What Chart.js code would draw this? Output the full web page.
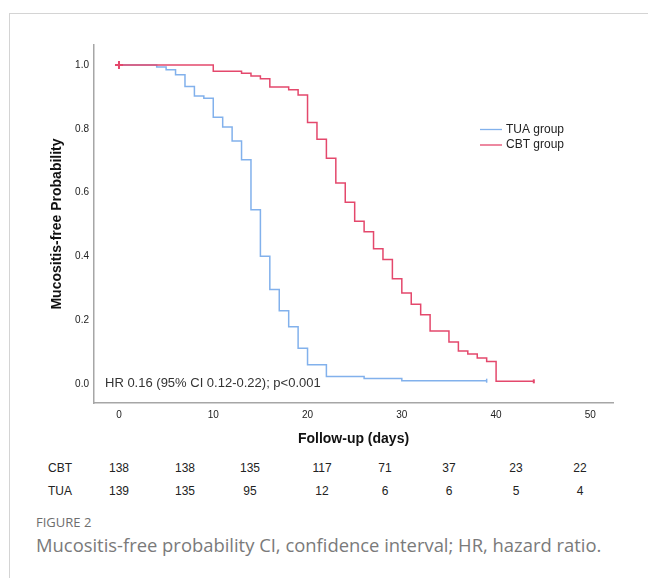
<!DOCTYPE html>
<html>
<head>
<meta charset="utf-8">
<script src="https://cdn.jsdelivr.net/npm/chart.js@4.4.1/dist/chart.umd.min.js"></script>
<style>
  body { margin: 0; background: #fff; font-family: "Liberation Sans", Arial, sans-serif; }
  #wrap { position: relative; width: 648px; height: 578px; overflow: hidden; }
  #frame { position: absolute; left: 9px; top: 13px; width: 700px; height: 700px;
    border-top: 1px solid #d4d4d4; border-left: 1px solid #d4d4d4; }
  #km { position: absolute; left: 0; top: 0; }
  .cell { position: absolute; font-size: 12px; color: #222; transform: translateX(-50%); line-height: 14px; }
  .fig { position: absolute; left: 36px; font-family: "Open Sans", sans-serif; color: #6e6e6e; white-space: nowrap; }
</style>
</head>
<body>
<div id="wrap">
  <div id="frame"></div>
  <canvas id="km" width="648" height="460"></canvas>
  <div id="risk"></div>
  <div class="fig" style="top:514px;font-size:13px;line-height:16px;">FIGURE 2</div>
  <div class="fig" style="top:534px;font-size:18.4px;line-height:22px;color:#7a7a7a;">Mucositis-free probability CI, confidence interval; HR, hazard ratio.</div>
</div>
<script>
// step times (days) and survival after each drop
const timesTUA = [0, 4, 5, 6, 7, 8, 9, 10, 11, 12, 13, 14, 15, 16, 17, 18, 19, 20, 22, 26, 30, 39];
const survTUA = [1.0, 0.994, 0.985, 0.97, 0.933, 0.903, 0.896, 0.836, 0.806, 0.762, 0.703, 0.546, 0.40, 0.296, 0.229, 0.179, 0.112, 0.06, 0.023, 0.017, 0.01, 0.01];

const timesCBT = [0, 10, 13, 14, 15, 16, 18, 19, 20, 21, 22, 23, 24, 25, 26, 27, 28, 29, 30, 31, 32, 33, 35, 36, 37, 38, 39, 40, 44];
const survCBT = [1.0, 0.981, 0.974, 0.966, 0.957, 0.931, 0.923, 0.906, 0.82, 0.767, 0.708, 0.63, 0.57, 0.51, 0.477, 0.424, 0.39, 0.33, 0.285, 0.25, 0.217, 0.166, 0.131, 0.103, 0.094, 0.081, 0.07, 0.008, 0.008];

const xTicks = [0, 10, 20, 30, 40, 50];
const yTicks = [0, 0.2, 0.4, 0.6, 0.8, 1.0];

// numbers at risk
const riskLabels = ["CBT", "TUA"];
const riskCBT = [138, 138, 135, 117, 71, 37, 23, 22];
const riskTUA = [139, 135, 95, 12, 6, 6, 5, 4];

const blue = "#82b1ec";
const red = "#e4486c";

const toPoints = (ts, ss) => ts.map((t, i) => ({ x: t, y: ss[i] }));

// risk table as html text
const riskX = [119, 185, 250, 322, 385, 449, 516, 580];
const riskBox = document.getElementById("risk");
[riskCBT, riskTUA].forEach((row, r) => {
  const top = 461 + r * 23;
  riskBox.insertAdjacentHTML("beforeend",
    `<span class="cell" style="left:60px;top:${top}px">${riskLabels[r]}</span>`);
  row.forEach((v, i) => {
    riskBox.insertAdjacentHTML("beforeend",
      `<span class="cell" style="left:${riskX[i]}px;top:${top}px">${v}</span>`);
  });
});

const extras = {
  id: "extras",
  afterDraw(chart) {
    const { ctx, scales } = chart;
    ctx.save();
    ctx.textBaseline = "middle";
    // HR annotation
    ctx.font = "13px 'Liberation Sans', Arial";
    ctx.fillStyle = "#333";
    ctx.fillText("HR 0.16 (95% CI 0.12-0.22); p<0.001", chart.chartArea.left + 11, scales.y.getPixelForValue(0));
    // legend
    ctx.font = "12px 'Liberation Sans', Arial";
    const items = [["TUA group", blue], ["CBT group", red]];
    items.forEach(([label, color], i) => {
      const y = 129.5 + i * 15.5;
      ctx.strokeStyle = color;
      ctx.lineWidth = 1.3;
      ctx.beginPath();
      ctx.moveTo(480, y);
      ctx.lineTo(502, y);
      ctx.stroke();
      ctx.fillStyle = "#222";
      ctx.fillText(label, 506, y);
    });
    ctx.restore();
  },
};

new Chart(document.getElementById("km"), {
  type: "line",
  data: {
    datasets: [
      {
        label: "CBT group",
        data: toPoints(timesCBT, survCBT),
        borderColor: red,
        backgroundColor: red,
        borderWidth: 1.5,
        stepped: true,
        pointStyle: (c) => (c.dataIndex === 0 ? "cross" : "line"),
        pointRotation: (c) => (c.dataIndex === 0 ? 0 : 90),
        pointRadius: (c) => (c.dataIndex === 0 ? 4 : c.dataIndex === timesCBT.length - 1 ? 2 : 0),
        pointBorderWidth: 2,
      },
      {
        label: "TUA group",
        data: toPoints(timesTUA, survTUA),
        borderColor: blue,
        backgroundColor: blue,
        borderWidth: 1.5,
        stepped: true,
        pointStyle: "line",
        pointRotation: 90,
        pointRadius: (c) => (c.dataIndex === timesTUA.length - 1 ? 2 : 0),
      },
    ],
  },
  options: {
    responsive: false,
    animation: false,
    events: [],
    layout: { padding: { top: 45, right: 35, left: 0, bottom: 0 } },
    plugins: { legend: { display: false }, tooltip: { enabled: false } },
    scales: {
      x: {
        type: "linear",
        min: -2.65,
        max: 52.4,
        afterBuildTicks: (s) => { s.ticks = xTicks.map((v) => ({ value: v })); },
        afterFit: (s) => { s.height = 57; },
        grid: { display: false, drawTicks: false },
        border: { display: true, color: "#a6a6a6", width: 1.5 },
        ticks: { color: "#222", font: { size: 10, family: "'Liberation Sans', Arial" }, padding: 6 },
        title: {
          display: true,
          text: "Follow-up (days)",
          color: "#111",
          font: { size: 14, weight: "bold", family: "'Liberation Sans', Arial" },
          padding: { top: 0, bottom: 12 },
        },
      },
      y: {
        type: "linear",
        min: -0.06,
        max: 1.063,
        afterBuildTicks: (s) => { s.ticks = yTicks.map((v) => ({ value: v })); },
        afterFit: (s) => { s.width = 94; },
        grid: { display: false, drawTicks: false },
        border: { display: true, color: "#a6a6a6", width: 1.5 },
        ticks: {
          color: "#222",
          font: { size: 10, family: "'Liberation Sans', Arial" },
          padding: 5,
          callback: (v) => v.toFixed(1),
        },
        title: {
          display: true,
          text: "Mucositis-free Probability",
          color: "#111",
          font: { size: 14, weight: "bold", family: "'Liberation Sans', Arial" },
          padding: { top: 49, bottom: 0 },
        },
      },
    },
  },
  plugins: [extras],
});
</script>
</body>
</html>
